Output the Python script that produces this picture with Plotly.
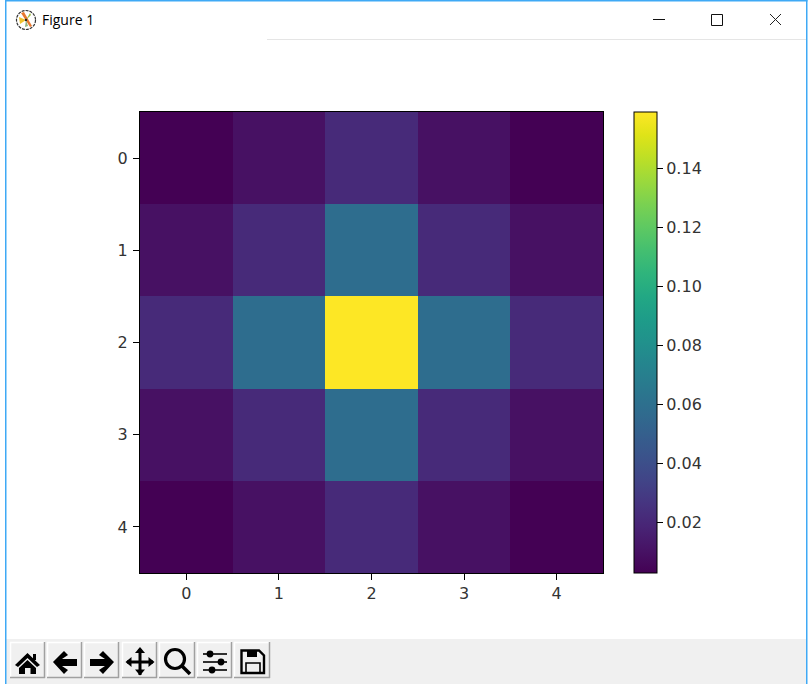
import plotly.graph_objects as go

FIG_W, FIG_H = 808, 684

# ---- chart data ----
row_labels = [0, 1, 2, 3, 4]
col_labels = [0, 1, 2, 3, 4]
row0 = [0.0029, 0.0100, 0.0215, 0.0100, 0.0029]
row1 = [0.0100, 0.0215, 0.0585, 0.0215, 0.0100]
row2 = [0.0215, 0.0585, 0.1592, 0.0585, 0.0215]
row3 = [0.0100, 0.0215, 0.0585, 0.0215, 0.0100]
row4 = [0.0029, 0.0100, 0.0215, 0.0100, 0.0029]
colorbar_ticks = [0.02, 0.04, 0.06, 0.08, 0.10, 0.12, 0.14]
colorbar_labels = ["0.02", "0.04", "0.06", "0.08", "0.10", "0.12", "0.14"]
window_title = "Figure 1"

VIRIDIS = ["#440154", "#471365", "#482475", "#463480", "#414487", "#3b528b", "#355f8d",
           "#2f6c8e", "#2a788e", "#25848e", "#21918c", "#1e9c89", "#22a884", "#2fb47c",
           "#44bf70", "#5ec962", "#7ad151", "#9bd93c", "#bddf26", "#dfe318", "#fde725"]
COLORSCALE = [[i / (len(VIRIDIS) - 1), c] for i, c in enumerate(VIRIDIS)]

INK = "#333333"
FONT = dict(family="DejaVu Sans", size=16, color=INK)


def px(x):
    return x / FIG_W


def py(y):
    return 1 - y / FIG_H


def path_of(points, close=True):
    s = "M " + " L ".join(f"{px(x):.5f},{py(y):.5f}" for x, y in points)
    return s + (" Z" if close else "")


shapes = []


def add_poly(points, fill=None, line=None, width=0, close=True, dash=None):
    shapes.append(dict(
        type="path", xref="paper", yref="paper", path=path_of(points, close),
        fillcolor=fill if fill else "rgba(0,0,0,0)",
        line=dict(color=line if line else "rgba(0,0,0,0)", width=width, dash=dash or "solid"),
    ))


def add_rect(x0, y0, x1, y1, fill=None, line=None, width=0):
    shapes.append(dict(
        type="rect", xref="paper", yref="paper",
        x0=px(x0), x1=px(x1), y0=py(y1), y1=py(y0),
        fillcolor=fill if fill else "rgba(0,0,0,0)",
        line=dict(color=line if line else "rgba(0,0,0,0)", width=width),
    ))


def add_circle(cx, cy, r, fill=None, line=None, width=0, dash=None):
    shapes.append(dict(
        type="circle", xref="paper", yref="paper",
        x0=px(cx - r), x1=px(cx + r), y0=py(cy + r), y1=py(cy - r),
        fillcolor=fill if fill else "rgba(0,0,0,0)",
        line=dict(color=line if line else "rgba(0,0,0,0)", width=width, dash=dash or "solid"),
    ))


def add_line(x0, y0, x1, y1, color, width=1):
    add_poly([(x0, y0), (x1, y1)], line=color, width=width, close=False)


# ---- window chrome ----
BLUE = "#3fa9f5"
add_rect(6, 639, 806, 684, fill="#f0f0f0")
add_rect(5, 0, 6.5, 684, fill=BLUE)
add_rect(806, 0, 807.5, 684, fill=BLUE)
add_rect(5, 0, 807.5, 1.5, fill=BLUE)
add_rect(267, 39, 806, 40, fill="#e5e5e5")

# title-bar controls
add_rect(653, 19, 665, 20, fill="#111111")
add_rect(711.5, 14.5, 722.5, 25.5, line="#111111", width=1)
add_line(770, 14, 781, 25, "#222222", 1)
add_line(781, 14, 770, 25, "#222222", 1)

# title-bar icon
add_poly([(21, 13), (24, 12), (32, 26), (30, 27)], fill="#e8772e")
add_poly([(19, 17), (26, 20), (20, 24)], fill="#efc22e")
add_poly([(26, 20), (30, 13), (31, 15)], fill="#9dbb3c")
add_poly([(26, 20), (25, 27), (28, 26)], fill="#8fb57f")
add_circle(26, 20, 1.2, fill="#222222")
add_circle(26, 20, 9.5, line="#333333", width=1.2, dash="3px,1px")

# toolbar buttons
buttons = [(10, 45), (47, 82), (84, 119), (122, 157), (159, 195), (197, 232), (234, 270)]
for b0, b1 in buttons:
    add_rect(b0, 642, b1, 678, fill="#f0f0f0")
    add_line(b0, 642.5, b1, 642.5, "#ffffff", 1.5)
    add_line(b0 + .5, 642, b0 + .5, 678, "#ffffff", 1.5)
    add_line(b0, 677.5, b1, 677.5, "#a0a0a0", 1.5)
    add_line(b1 - .5, 642, b1 - .5, 678, "#a0a0a0", 1.5)

K = "#000000"
# home
add_poly([(27.5, 653), (40, 665), (37, 667), (27.5, 658), (18, 667), (15, 665)], fill=K)
add_poly([(27.5, 660), (36, 668), (36, 674), (30.5, 674), (30.5, 668), (25, 668), (25, 674), (19, 674), (19, 668)], fill=K)
add_rect(33, 654, 36, 660, fill=K)
# back
add_poly([(53, 662), (64, 651), (68, 655), (62, 659), (77, 659), (77, 666), (62, 666), (68, 670), (64, 674)], fill=K)
# forward
add_poly([(114, 662), (103, 651), (99, 655), (105, 659), (90, 659), (90, 666), (105, 666), (99, 670), (103, 674)], fill=K)
# move
add_line(127, 662, 153, 662, K, 3)
add_line(140, 649, 140, 675, K, 3)
add_poly([(140, 647), (145, 653), (135, 653)], fill=K)
add_poly([(140, 675.5), (145, 669.5), (135, 669.5)], fill=K)
add_poly([(125.5, 662), (131.5, 657), (131.5, 667)], fill=K)
add_poly([(154.5, 662), (148.5, 657), (148.5, 667)], fill=K)
# zoom
add_circle(175, 659, 9.5, line=K, width=3.2)
add_line(182, 666, 190, 674, K, 3.5)
# sliders
for ly, kx in [(654, 210), (662, 221), (670, 212)]:
    add_line(203, ly, 227, ly, K, 1.6)
    add_circle(kx, ly, 3.4, fill=K)
# save
add_poly([(241.5, 650.5), (259, 650.5), (264, 655.5), (264, 673), (241.5, 673)], line=K, width=2.4)
add_rect(247, 650, 257, 657, fill=K)
add_rect(246, 663, 260, 673, line=K, width=1.6)

# ---- chart ----
heat = go.Heatmap(
    z=[row0, row1, row2, row3, row4],
    x=col_labels,
    y=row_labels,
    colorscale=COLORSCALE,
    zmin=0.0029,
    zmax=0.1592,
    xgap=0,
    ygap=0,
    colorbar=dict(
        x=px(634), xanchor="left", xref="paper",
        y=py(342.5), yanchor="middle", yref="paper",
        thickness=23, thicknessmode="pixels",
        len=461, lenmode="pixels",
        outlinecolor="#000000", outlinewidth=1,
        borderwidth=0, xpad=0, ypad=0,
        tickmode="array", tickvals=colorbar_ticks, ticktext=colorbar_labels,
        ticks="outside", ticklen=6, tickwidth=1, tickcolor="#000000",
        tickfont=FONT,
    ),
)

fig = go.Figure(heat)
fig.update_layout(
    width=FIG_W, height=FIG_H,
    margin=dict(l=0, r=0, t=0, b=0),
    paper_bgcolor="#ffffff",
    plot_bgcolor="#ffffff",
    showlegend=False,
    shapes=shapes,
    annotations=[dict(
        text=window_title, xref="paper", yref="paper",
        x=px(40), y=py(20), xanchor="left", yanchor="middle", showarrow=False,
        font=dict(family="Open Sans", size=14, color="#000000"),
    )],
    xaxis=dict(
        domain=[px(140), px(603)], range=[-0.5, 4.5],
        tickmode="array", tickvals=col_labels, ticktext=[str(c) for c in col_labels],
        ticks="outside", ticklen=6, tickwidth=1, tickcolor="#000000",
        showline=True, linecolor="#000000", linewidth=1, mirror=True,
        showgrid=False, zeroline=False, tickfont=FONT, anchor="y",
    ),
    yaxis=dict(
        domain=[py(573), py(112)], range=[4.5, -0.5],
        tickmode="array", tickvals=row_labels, ticktext=[str(r) for r in row_labels],
        ticks="outside", ticklen=6, tickwidth=1, tickcolor="#000000",
        ticklabelstandoff=2,
        showline=True, linecolor="#000000", linewidth=1, mirror=True,
        showgrid=False, zeroline=False, tickfont=FONT, anchor="x",
    ),
)

fig.write_html("out.html", config=dict(displayModeBar=False),
               post_script="document.body.style.margin='0';")
